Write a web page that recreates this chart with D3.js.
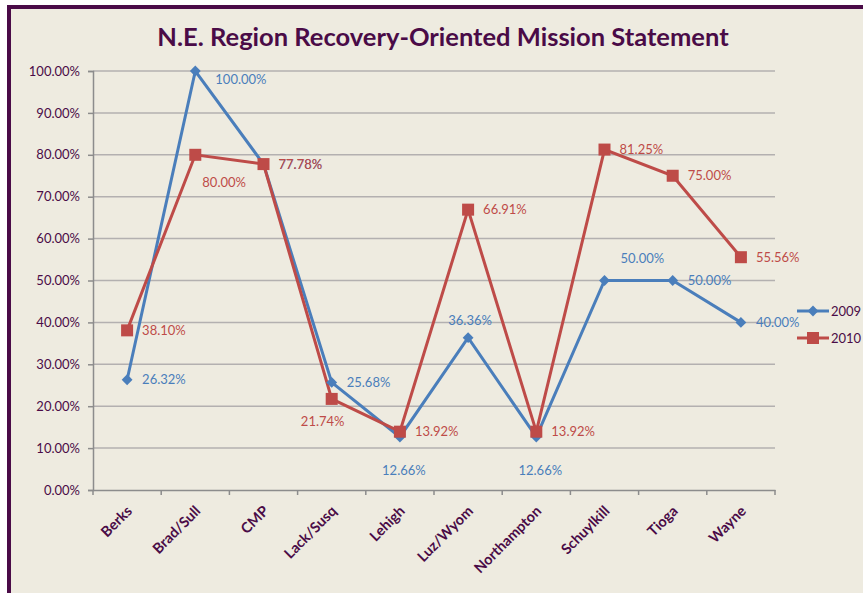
<!DOCTYPE html>
<html>
<head>
<style>
  body { margin: 0; background: #fff; }
  text { font-family: Lato, "Liberation Sans", sans-serif; }
</style>
</head>
<body>
<svg width="863" height="593"></svg>
<script src="https://d3js.org/d3.v7.min.js"></script>
<script>
const categories = ["Berks", "Brad/Sull", "CMP", "Lack/Susq", "Lehigh", "Luz/Wyom", "Northampton", "Schuylkill", "Tioga", "Wayne"];
const values2009 = [0.2632, 1.0, 0.7778, 0.2568, 0.1266, 0.3636, 0.1266, 0.5, 0.5, 0.4];
const values2010 = [0.3810, 0.8, 0.7778, 0.2174, 0.1392, 0.6691, 0.1392, 0.8125, 0.75, 0.5556];
const yTicks = [0, 0.1, 0.2, 0.3, 0.4, 0.5, 0.6, 0.7, 0.8, 0.9, 1.0];
const seriesNames = ["2009", "2010"];

// where each data label sits relative to its point
const place2009 = ["r", "r2", "r", "r", "b", "t", "b", "tr", "r", "r"];
const place2010 = ["r", "br", "r", "bl", "r", "r", "r", "r", "r", "r"];

const svg = d3.select("svg");
const margin = {left: 93, right: 88, top: 71, bottom: 103};
const width = 863 - margin.left - margin.right,
      height = 593 - margin.top - margin.bottom;

const purple = "#4a0b47";
const blue = "#4a7ebb";
const red = "#be4b48";

svg.append("rect")
    .attr("x", 9).attr("y", 7)
    .attr("width", 900).attr("height", 620)
    .attr("fill", "#eeebe0")
    .attr("stroke", purple)
    .attr("stroke-width", 4);

svg.append("text")
    .attr("x", 443).attr("y", 46)
    .attr("text-anchor", "middle")
    .attr("font-size", 25.5)
    .attr("font-weight", "bold")
    .attr("fill", purple)
    .text("N.E. Region Recovery-Oriented Mission Statement");

const g = svg.append("g").attr("transform", "translate(" + margin.left + "," + margin.top + ")");

const x = d3.scaleBand().domain(categories).range([0, width]);
const y = d3.scaleLinear().domain([0, 1]).range([height, 0]);

// gridlines
g.selectAll(".grid").data(yTicks.slice(1)).enter().append("line")
    .attr("x1", 0).attr("x2", width)
    .attr("y1", d => y(d)).attr("y2", d => y(d))
    .attr("stroke", "#b3b0b0").attr("stroke-width", 1.5);

// y axis
const yAxis = g.append("g").call(d3.axisLeft(y).tickValues(yTicks).tickSize(5)
    .tickFormat(d => (d * 100).toFixed(2) + "%"));
yAxis.select(".domain").attr("stroke", "#8c8c8c").attr("stroke-width", 1.5);
yAxis.selectAll(".tick line").attr("stroke", "#8c8c8c").attr("stroke-width", 1.5);
yAxis.selectAll(".tick text")
    .attr("font-size", 13).attr("fill", purple).attr("font-family", "Lato, sans-serif")
    .attr("x", -13);

// x axis
const xAxis = g.append("g").attr("transform", "translate(0," + height + ")")
    .call(d3.axisBottom(x).tickSize(0).tickFormat(""));
xAxis.select(".domain").attr("stroke", "#8c8c8c").attr("stroke-width", 1.5);
const bounds = categories.map(c => x(c)).concat([width]);
g.selectAll(".xtick").data(bounds).enter().append("line")
    .attr("x1", d => d).attr("x2", d => d)
    .attr("y1", height).attr("y2", height + 5)
    .attr("stroke", "#8c8c8c").attr("stroke-width", 1.5);
g.selectAll(".xlabel").data(categories).enter().append("text")
    .attr("transform", d => "translate(" + (x(d) + x.bandwidth() / 2 + 6) + "," + (height + 22) + ") rotate(-45)")
    .attr("text-anchor", "end")
    .attr("font-size", 14.5).attr("font-weight", "bold")
    .attr("fill", purple)
    .text(d => d);

const cx = d => x(d) + x.bandwidth() / 2;
const line = d3.line().x(d => cx(d.c)).y(d => y(d.v));

const s2009 = categories.map((c, i) => ({c: c, v: values2009[i], p: place2009[i]}));
const s2010 = categories.map((c, i) => ({c: c, v: values2010[i], p: place2010[i]}));

g.append("path").datum(s2009).attr("d", line)
    .attr("fill", "none").attr("stroke", blue).attr("stroke-width", 3);
g.append("path").datum(s2010).attr("d", line)
    .attr("fill", "none").attr("stroke", red).attr("stroke-width", 3);

const diamond = d3.symbol().type(d3.symbolDiamond2).size(75);
g.selectAll(".m09").data(s2009).enter().append("path")
    .attr("d", diamond)
    .attr("transform", d => "translate(" + cx(d.c) + "," + y(d.v) + ")")
    .attr("fill", blue);
g.selectAll(".m10").data(s2010).enter().append("rect")
    .attr("x", d => cx(d.c) - 6).attr("y", d => y(d.v) - 6)
    .attr("width", 12).attr("height", 12)
    .attr("fill", red);

const offsets = {
  r: [15, 0, "start"], r2: [20, 8, "start"], b: [4, 33, "middle"], t: [2, -17, "middle"],
  tr: [16, -22, "start"], br: [7, 28, "start"], bl: [-9, 23, "middle"]
};
function labels(data, color) {
  g.selectAll(null).data(data).enter().append("text")
    .attr("x", d => cx(d.c) + offsets[d.p][0])
    .attr("y", d => y(d.v) + offsets[d.p][1])
    .attr("dy", "0.35em")
    .attr("text-anchor", d => offsets[d.p][2])
    .attr("font-size", 13)
    .attr("fill", color)
    .text(d => (d.v * 100).toFixed(2) + "%");
}
labels(s2009, blue);
labels(s2010, red);

// legend
const legend = svg.append("g");
[blue, red].forEach((col, i) => {
  const ly = 311 + i * 27;
  legend.append("line").attr("x1", 797).attr("x2", 829).attr("y1", ly).attr("y2", ly)
      .attr("stroke", col).attr("stroke-width", 3);
  if (i === 0) {
    legend.append("path").attr("d", diamond).attr("transform", "translate(813," + ly + ")").attr("fill", col);
  } else {
    legend.append("rect").attr("x", 807).attr("y", ly - 6).attr("width", 12).attr("height", 12).attr("fill", col);
  }
  legend.append("text").attr("x", 831).attr("y", ly).attr("dy", "0.35em")
      .attr("font-size", 13).attr("fill", purple).text(seriesNames[i]);
});
</script>
</body>
</html>
